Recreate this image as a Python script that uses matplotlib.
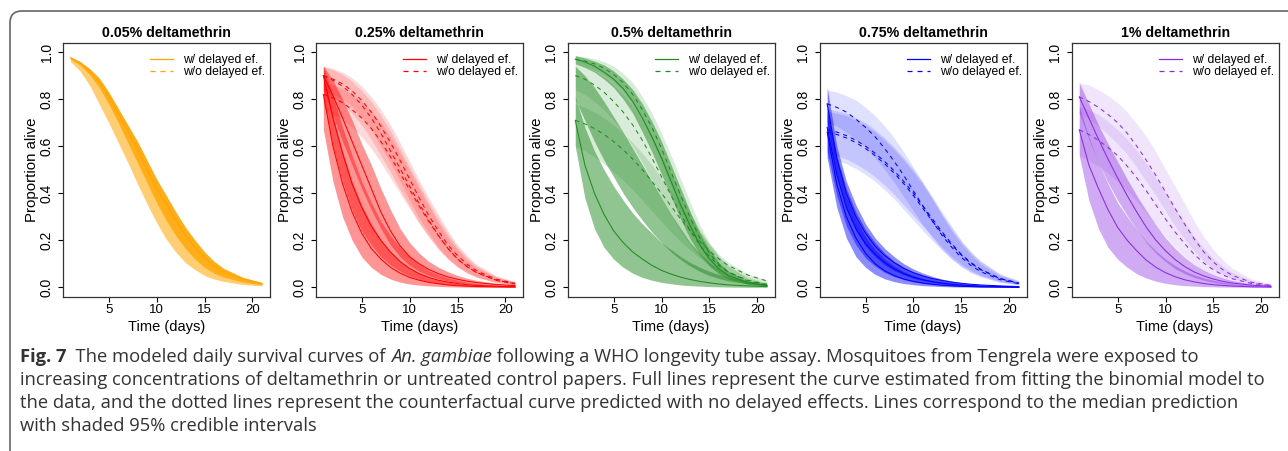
import matplotlib
matplotlib.use("Agg")
import matplotlib.pyplot as plt
from matplotlib.lines import Line2D
from matplotlib.patches import FancyBboxPatch
from matplotlib.transforms import IdentityTransform

DAYS = [1, 2, 3, 4, 5, 6, 7, 8, 9, 10, 11, 12, 13, 14, 15, 16, 17, 19, 21]

TITLES = ["0.05% deltamethrin", "0.25% deltamethrin", "0.5% deltamethrin",
          "0.75% deltamethrin", "1% deltamethrin"]
LEGEND_LABELS = ["w/ delayed ef.", "w/o delayed ef."]
X_TICKS = [5, 10, 15, 20]
Y_TICKS = [0.0, 0.2, 0.4, 0.6, 0.8, 1.0]

# ---- 0.05 % (orange) ----
orange_w_med = [[.975, .955, .92, .875, .81, .74, .665, .59, .50, .42, .355, .285, .22, .17, .125, .09, .065, .035, .016]]
orange_w_lo = [[.97, .945, .905, .85, .78, .70, .615, .53, .445, .36, .285, .22, .165, .12, .085, .06, .043, .022, .01]]
orange_w_hi = [[.98, .96, .93, .89, .83, .76, .69, .62, .54, .46, .39, .32, .255, .20, .15, .11, .08, .042, .02]]
orange_wo_med = [[.975, .955, .92, .875, .81, .74, .665, .59, .50, .42, .355, .285, .22, .17, .125, .09, .065, .035, .016]]
orange_wo_lo = [[.96, .92, .86, .78, .70, .615, .53, .44, .355, .275, .205, .15, .105, .075, .05, .035, .025, .012, .006]]
orange_wo_hi = [[.98, .96, .93, .89, .83, .76, .69, .62, .54, .46, .39, .32, .255, .20, .15, .11, .08, .042, .02]]

# ---- 0.25 % (red) ----
red_w_med = [[.90, .815, .72, .62, .52, .42, .32, .24, .176, .13, .10, .076, .058, .044, .034, .026, .02, .012, .007],
             [.90, .72, .57, .44, .34, .26, .20, .15, .11, .08, .058, .042, .03, .022, .016, .011, .008, .004, .002],
             [.82, .60, .44, .32, .23, .165, .12, .085, .06, .042, .03, .021, .015, .01, .007, .005, .003, .002, .001]]
red_w_lo = [[.84, .73, .62, .52, .42, .33, .25, .18, .13, .093, .068, .05, .037, .027, .02, .015, .011, .006, .003],
            [.80, .60, .45, .33, .24, .18, .13, .095, .068, .048, .034, .024, .017, .012, .008, .006, .004, .002, .001],
            [.67, .45, .30, .20, .13, .085, .055, .035, .022, .014, .009, .006, .004, .002, .001, .001, 0, 0, 0]]
red_w_hi = [[.94, .88, .80, .71, .61, .52, .42, .33, .25, .19, .145, .11, .085, .066, .05, .038, .029, .017, .01],
            [.94, .81, .68, .56, .45, .36, .28, .22, .17, .13, .097, .072, .054, .04, .03, .022, .016, .009, .005],
            [.90, .73, .58, .45, .35, .27, .20, .15, .11, .08, .058, .042, .03, .022, .016, .011, .008, .004, .002]]
red_wo_med = [[.90, .885, .865, .835, .795, .745, .685, .615, .54, .46, .38, .305, .24, .18, .135, .098, .07, .035, .017],
              [.90, .88, .855, .82, .775, .72, .655, .58, .505, .43, .355, .285, .22, .165, .12, .087, .062, .03, .014],
              [.82, .805, .785, .755, .72, .675, .62, .555, .485, .415, .345, .28, .22, .165, .12, .088, .063, .031, .015]]
red_wo_lo = [[.84, .82, .80, .77, .72, .67, .60, .53, .45, .37, .295, .23, .17, .125, .09, .063, .044, .021, .01],
             [.84, .81, .78, .74, .69, .63, .56, .49, .415, .345, .275, .215, .16, .12, .085, .06, .042, .02, .009],
             [.76, .74, .715, .68, .64, .59, .53, .465, .40, .335, .27, .215, .165, .12, .087, .062, .044, .021, .01]]
red_wo_hi = [[.94, .93, .915, .89, .855, .81, .755, .69, .615, .535, .455, .38, .31, .24, .18, .135, .097, .05, .025],
             [.94, .925, .905, .875, .835, .79, .73, .665, .59, .51, .435, .36, .29, .225, .17, .125, .09, .046, .022],
             [.87, .86, .845, .82, .79, .75, .70, .64, .57, .495, .42, .345, .275, .21, .16, .115, .083, .042, .02]]

# ---- 0.5 % (green) ----
green_w_med = [[.97, .958, .94, .915, .885, .845, .79, .72, .64, .55, .45, .35, .26, .18, .12, .078, .05, .02, .008],
               None,
               [.71, .52, .40, .31, .24, .19, .15, .12, .093, .072, .056, .043, .033, .025, .019, .014, .01, .006, .003]]
green_w_lo = [[.95, .935, .915, .885, .85, .80, .74, .66, .575, .48, .385, .29, .205, .14, .09, .057, .035, .013, .005],
              [.80, .71, .62, .54, .47, .40, .34, .285, .235, .19, .15, .118, .09, .068, .05, .037, .027, .014, .007],
              [.60, .38, .25, .17, .12, .085, .06, .042, .03, .021, .015, .01, .007, .005, .003, .002, .001, 0, 0]]
green_w_hi = [[.985, .975, .962, .945, .92, .885, .84, .78, .705, .62, .52, .42, .32, .23, .16, .105, .068, .028, .011],
              [.94, .90, .85, .79, .725, .66, .59, .52, .45, .38, .31, .25, .19, .145, .105, .075, .052, .025, .012],
              [.81, .68, .58, .50, .43, .37, .315, .27, .23, .19, .16, .13, .105, .085, .068, .054, .043, .026, .015]]
green_wo_med = [[.97, .962, .95, .932, .905, .87, .82, .755, .68, .59, .49, .39, .295, .21, .145, .097, .064, .027, .011],
                [.90, .885, .86, .83, .79, .745, .69, .625, .55, .47, .39, .31, .24, .18, .13, .092, .064, .03, .013],
                [.71, .695, .675, .65, .62, .585, .545, .50, .45, .40, .345, .29, .24, .195, .155, .12, .092, .052, .027]]
green_wo_lo = [[.95, .94, .925, .905, .875, .835, .78, .71, .625, .53, .43, .33, .245, .17, .115, .075, .048, .019, .007],
               [.84, .82, .79, .755, .71, .66, .60, .53, .455, .38, .305, .24, .18, .13, .093, .064, .044, .02, .008],
               [.60, .58, .555, .525, .49, .455, .415, .37, .325, .28, .235, .195, .158, .125, .097, .074, .056, .03, .015]]
green_wo_hi = [[.985, .98, .972, .96, .94, .91, .87, .81, .74, .655, .56, .46, .36, .265, .19, .13, .088, .038, .016],
               [.95, .94, .92, .895, .86, .82, .77, .71, .64, .56, .48, .395, .315, .245, .18, .13, .092, .043, .019],
               [.78, .765, .745, .72, .69, .655, .615, .57, .52, .465, .41, .35, .29, .235, .185, .14, .105, .057, .03]]

# ---- 0.75 % (blue) ----
blue_w_med = [[.78, .55, .40, .30, .23, .175, .135, .105, .08, .062, .048, .037, .029, .022, .017, .013, .01, .006, .003],
              [.68, .48, .34, .25, .185, .14, .105, .078, .058, .043, .032, .024, .018, .013, .01, .007, .005, .003, .001],
              [.66, .44, .30, .21, .145, .10, .07, .05, .035, .025, .018, .013, .009, .006, .004, .003, .002, .001, 0]]
blue_w_lo = [[.70, .48, .33, .24, .175, .13, .095, .07, .052, .038, .028, .021, .015, .011, .008, .006, .004, .002, .001],
             [.58, .39, .26, .18, .125, .09, .063, .045, .032, .023, .016, .011, .008, .006, .004, .003, .002, .001, 0],
             [.55, .34, .21, .13, .085, .055, .036, .024, .016, .011, .007, .005, .003, .002, .001, .001, 0, 0, 0]]
blue_w_hi = [[.85, .60, .45, .35, .27, .21, .165, .13, .10, .078, .06, .046, .035, .027, .02, .015, .011, .006, .003],
             [.76, .56, .42, .32, .245, .19, .145, .11, .085, .065, .05, .038, .029, .022, .016, .012, .009, .005, .002],
             [.75, .54, .39, .29, .215, .16, .12, .09, .067, .05, .037, .027, .02, .015, .011, .008, .006, .003, .001]]
blue_wo_med = [[.78, .765, .745, .715, .68, .64, .59, .535, .475, .41, .345, .28, .22, .17, .127, .093, .067, .033, .015],
               [.67, .66, .645, .625, .60, .57, .535, .495, .45, .40, .345, .29, .235, .185, .14, .105, .077, .038, .018],
               [.66, .65, .635, .615, .59, .56, .525, .485, .44, .39, .335, .28, .228, .18, .137, .102, .075, .037, .017]]
blue_wo_lo = [[.70, .685, .66, .63, .595, .55, .50, .445, .385, .325, .265, .21, .16, .12, .087, .062, .044, .021, .01],
              [.57, .56, .545, .525, .50, .47, .435, .395, .35, .305, .26, .215, .17, .13, .098, .072, .052, .025, .012],
              [.55, .54, .525, .505, .48, .45, .415, .375, .33, .285, .24, .197, .157, .12, .09, .066, .048, .023, .011]]
blue_wo_hi = [[.84, .83, .815, .795, .765, .73, .685, .635, .575, .51, .445, .375, .305, .24, .185, .14, .10, .05, .024],
              [.75, .74, .73, .71, .69, .66, .625, .585, .54, .49, .435, .375, .31, .25, .195, .148, .11, .056, .027],
              [.76, .75, .74, .72, .70, .67, .635, .595, .55, .50, .445, .385, .32, .26, .20, .152, .113, .058, .028]]

# ---- 1 % (purple) ----
purple_w_med = [[.81, .72, .63, .545, .465, .39, .32, .255, .20, .155, .118, .088, .065, .048, .035, .025, .018, .009, .004],
                [.67, .52, .42, .33, .255, .20, .155, .115, .085, .062, .045, .032, .023, .016, .011, .008, .005, .002, .001]]
purple_w_lo = [[.74, .63, .53, .445, .37, .305, .245, .19, .145, .11, .08, .058, .042, .03, .021, .015, .01, .005, .002],
               [.56, .37, .25, .17, .12, .085, .058, .039, .026, .017, .011, .007, .005, .003, .002, .001, .001, 0, 0]]
purple_w_hi = [[.87, .78, .69, .61, .535, .46, .39, .325, .265, .21, .165, .127, .096, .072, .053, .039, .028, .014, .007],
               [.77, .64, .53, .44, .36, .30, .245, .195, .155, .12, .092, .07, .053, .04, .03, .022, .016, .008, .004]]
purple_wo_med = [[.81, .79, .765, .735, .70, .655, .60, .54, .475, .405, .335, .268, .205, .15, .107, .074, .05, .021, .008],
                 [.67, .65, .625, .595, .56, .515, .465, .41, .35, .29, .235, .185, .14, .103, .074, .052, .036, .016, .007]]
purple_wo_lo = [[.74, .715, .685, .65, .61, .565, .51, .45, .39, .325, .26, .205, .155, .11, .078, .053, .036, .015, .006],
                [.56, .54, .515, .485, .45, .41, .365, .315, .265, .215, .17, .13, .097, .07, .05, .035, .024, .01, .004]]
purple_wo_hi = [[.87, .86, .84, .815, .785, .745, .695, .64, .575, .50, .43, .355, .28, .215, .16, .115, .08, .035, .014],
                [.77, .755, .735, .705, .67, .63, .58, .525, .465, .40, .335, .275, .215, .165, .122, .088, .062, .028, .012]]

CAPTION = [
    [("Fig. 7", "bold", "normal"),
     ("  The modeled daily survival curves of ", "normal", "normal"),
     ("An. gambiae", "normal", "italic"),
     (" following a WHO longevity tube assay. Mosquitoes from Tengrela were exposed to", "normal", "normal")],
    [("increasing concentrations of deltamethrin or untreated control papers. Full lines represent the curve "
      "estimated from fitting the binomial model to", "normal", "normal")],
    [("the data, and the dotted lines represent the counterfactual curve predicted with no delayed effects. "
      "Lines correspond to the median prediction", "normal", "normal")],
    [("with shaded 95% credible intervals", "normal", "normal")],
]

panels = [
    (TITLES[0], "#FFA500", orange_w_med, orange_w_lo, orange_w_hi,
     orange_wo_med, orange_wo_lo, orange_wo_hi, 0.78, 0.55),
    (TITLES[1], "#FF0000", red_w_med, red_w_lo, red_w_hi,
     red_wo_med, red_wo_lo, red_wo_hi, 0.42, 0.15),
    (TITLES[2], "#228B22", green_w_med, green_w_lo, green_w_hi,
     green_wo_med, green_wo_lo, green_wo_hi, 0.5, 0.17),
    (TITLES[3], "#0000FF", blue_w_med, blue_w_lo, blue_w_hi,
     blue_wo_med, blue_wo_lo, blue_wo_hi, 0.45, 0.12),
    (TITLES[4], "#8A2BE2", purple_w_med, purple_w_lo, purple_w_hi,
     purple_wo_med, purple_wo_lo, purple_wo_hi, 0.4, 0.12),
]

plt.rcParams['font.family'] = ['Liberation Sans', 'DejaVu Sans']

W, H = 1288, 451
fig = plt.figure(figsize=(W / 100, H / 100), dpi=100)

lefts = [62.7, 315.7, 567.6, 819.5, 1071.6]
ax_w, ax_top, ax_bot = 207.0, 42.7, 296.7
ax_h = ax_bot - ax_top
dash = (0, (4, 4))

for left, (title, col, w_med, w_lo, w_hi, wo_med, wo_lo, wo_hi, a_w, a_wo) in zip(lefts, panels):
    ax = fig.add_axes([left / W, (H - ax_bot) / H, ax_w / W, ax_h / H])
    for lo, hi in zip(wo_lo, wo_hi):
        ax.fill_between(DAYS, lo, hi, color=col, alpha=a_wo, lw=0)
    for lo, hi in zip(w_lo, w_hi):
        ax.fill_between(DAYS, lo, hi, color=col, alpha=a_w, lw=0)
    for med in wo_med:
        if med is not None:
            ax.plot(DAYS, med, color=col, lw=0.75, linestyle=dash)
    for med in w_med:
        if med is not None:
            ax.plot(DAYS, med, color=col, lw=0.75)

    ax.set_xlim(0.2, 21.8)
    ax.set_ylim(-0.04, 1.04)
    ax.set_xticks(X_TICKS)
    ax.set_yticks(Y_TICKS)
    ax.set_yticklabels(["%.1f" % v for v in Y_TICKS], rotation=90, va='center')
    ax.tick_params(axis='x', labelsize=9.5, length=3.6, width=0.8, pad=1.5)
    ax.tick_params(axis='y', labelsize=10, length=3.6, width=0.8, pad=3)
    for sp in ax.spines.values():
        sp.set_linewidth(0.9)
        sp.set_color('#333333')

    ax.set_ylabel("Proportion alive", fontsize=10.8)
    ax.yaxis.set_label_coords(-31.0 / ax_w, 0.5)
    ax.yaxis.label.set_va('center')
    ax.set_xlabel("Time (days)", fontsize=10.5)
    ax.xaxis.set_label_coords(0.5, -(326.5 - ax_bot) / ax_h)
    ax.xaxis.label.set_va('center')

    ax.text(0.5, 1 + (ax_top - 33) / ax_h, title, transform=ax.transAxes,
            ha='center', va='center', fontsize=10.2, fontweight='bold')

    handles = [Line2D([], [], color=col, lw=0.9),
               Line2D([], [], color=col, lw=0.9, linestyle=dash)]
    ax.legend(handles, LEGEND_LABELS, loc='upper right',
              bbox_to_anchor=(1.0, 1.0 - 6.5 / ax_h),
              frameon=False, fontsize=8.7, handlelength=1.87, handletextpad=0.83,
              borderaxespad=0.2, borderpad=0.2, labelspacing=0.0)

# rounded frame around figure and caption
frame = FancyBboxPatch((10, -40), 1320, H - 11 + 40,
                       boxstyle="round,pad=0,rounding_size=12",
                       transform=IdentityTransform(), fill=False,
                       ec='#666666', lw=1.2)
fig.add_artist(frame)

# caption, laid out piece by piece
renderer = fig.canvas.get_renderer()
cap_font = 'Open Sans'
probe = fig.text(0, 0, CAPTION[1][0][0], fontsize=12, family=cap_font,
                 transform=IdentityTransform())
probe_w = probe.get_window_extent(renderer).width
probe.remove()
cap_size = 12 * 1242 / probe_w

line_y = [357, 380, 403, 426]
for pieces, y in zip(CAPTION, line_y):
    x = 20
    for s, weight, style in pieces:
        t = fig.text(x, H - y, s, fontsize=cap_size, family=cap_font,
                     fontweight=weight, fontstyle=style, color='#333333',
                     va='center', ha='left', transform=IdentityTransform())
        x = t.get_window_extent(renderer).x1

fig.savefig("out.png", dpi=100)
